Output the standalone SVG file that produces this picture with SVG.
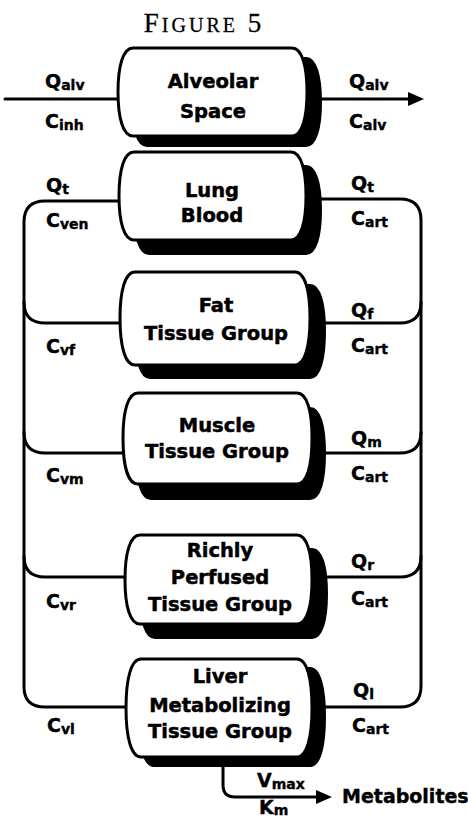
<svg xmlns="http://www.w3.org/2000/svg" width="468" height="820" viewBox="0 0 468 820">
<defs>
<style>
.bx{fill:#fff;stroke:#000;stroke-width:3;stroke-linejoin:round}
.sh{fill:#000;stroke:#000;stroke-width:2}
.ln{fill:none;stroke:#000;stroke-width:3;stroke-linecap:round}
.t{font-family:"DejaVu Sans","Liberation Sans",sans-serif;font-weight:bold;font-size:19.5px;fill:#000;stroke:#000;stroke-width:0.5;text-anchor:middle}
.lb{font-family:"DejaVu Sans","Liberation Sans",sans-serif;font-weight:bold;font-size:19px;fill:#000;stroke:#000;stroke-width:0.4}
.sb{font-size:14px}
.ttl{font-family:"Liberation Serif",serif;fill:#000;stroke:#000;stroke-width:0.3;text-anchor:middle;letter-spacing:3px}
</style>
<marker id="ah" viewBox="0 0 16 14" refX="2" refY="7" markerWidth="16" markerHeight="14" markerUnits="userSpaceOnUse" orient="auto">
<path d="M0,0 L16,7 L0,14 Z" fill="#000"/>
</marker>
</defs>
<rect width="468" height="820" fill="#fff"/>
<text class="ttl" x="204" y="32"><tspan font-size="27">F</tspan><tspan font-size="20">IGURE</tspan><tspan font-size="27"> 5</tspan></text>

<g id="connectors">
<path class="ln" d="M5,99 H120"/>
<path class="ln" d="M318,99 H410" marker-end="url(#ah)"/>
<path class="ln" d="M121,201 H45 Q24,201 24,222 V687 Q24,707 45,707 H128"/>
<path class="ln" d="M24,302 Q24,323 45,323 H122"/>
<path class="ln" d="M24,432 Q24,453 45,453 H125"/>
<path class="ln" d="M24,556 Q24,577 45,577 H127"/>
<path class="ln" d="M304,199 H400 Q421,199 421,220 V686 Q421,707 400,707 H310"/>
<path class="ln" d="M421,302 Q421,323 400,323 H308"/>
<path class="ln" d="M421,432 Q421,453 400,453 H310"/>
<path class="ln" d="M421,556 Q421,577 400,577 H310"/>
<path class="ln" d="M223,762 V785 Q223,797 235,797 H318" marker-end="url(#ah)"/>
</g>

<g id="alveolar">
<path class="sh" transform="translate(14,10)" d="M133,48 H292 C302,48 307,66 307,92 C307,118 302,136 292,136 H133 C123,136 118,118 118,92 C118,66 123,48 133,48 Z"/>
<path class="bx" d="M133,48 H292 C302,48 307,66 307,92 C307,118 302,136 292,136 H133 C123,136 118,118 118,92 C118,66 123,48 133,48 Z"/>
<text class="t" x="213" y="88">Alveolar</text>
<text class="t" x="213" y="118">Space</text>
</g>

<g id="lung">
<path class="sh" transform="translate(15,14)" d="M134,152 H291 C301,152 306,170 306,196 C306,222 301,240 291,240 H134 C124,240 119,222 119,196 C119,170 124,152 134,152 Z"/>
<path class="bx" d="M134,152 H291 C301,152 306,170 306,196 C306,222 301,240 291,240 H134 C124,240 119,222 119,196 C119,170 124,152 134,152 Z"/>
<text class="t" x="212" y="197">Lung</text>
<text class="t" x="212" y="222">Blood</text>
</g>

<g id="fat">
<path class="sh" transform="translate(15,13)" d="M135,272 H295 C305,272 310,291 310,318 C310,346 305,365 295,365 H135 C125,365 120,346 120,318 C120,291 125,272 135,272 Z"/>
<path class="bx" d="M135,272 H295 C305,272 310,291 310,318 C310,346 305,365 295,365 H135 C125,365 120,346 120,318 C120,291 125,272 135,272 Z"/>
<text class="t" x="216" y="312">Fat</text>
<text class="t" x="216" y="340">Tissue Group</text>
</g>

<g id="muscle">
<path class="sh" transform="translate(13,15)" d="M138,393 H297 C307,393 312,411 312,438 C312,466 307,484 297,484 H138 C128,484 123,466 123,438 C123,411 128,393 138,393 Z"/>
<path class="bx" d="M138,393 H297 C307,393 312,411 312,438 C312,466 307,484 297,484 H138 C128,484 123,466 123,438 C123,411 128,393 138,393 Z"/>
<text class="t" x="217" y="432">Muscle</text>
<text class="t" x="217" y="458">Tissue Group</text>
</g>

<g id="richly">
<path class="sh" transform="translate(15,14)" d="M140,535 H297 C307,535 312,553 312,580 C312,606 307,624 297,624 H140 C130,624 125,606 125,580 C125,553 130,535 140,535 Z"/>
<path class="bx" d="M140,535 H297 C307,535 312,553 312,580 C312,606 307,624 297,624 H140 C130,624 125,606 125,580 C125,553 130,535 140,535 Z"/>
<text class="t" x="220" y="557">Richly</text>
<text class="t" x="220" y="584">Perfused</text>
<text class="t" x="220" y="611">Tissue Group</text>
</g>

<g id="liver">
<path class="sh" transform="translate(13,9)" d="M141,659 H297 C307,659 312,679 312,708 C312,737 307,757 297,757 H141 C131,757 126,737 126,708 C126,679 131,659 141,659 Z"/>
<path class="bx" d="M141,659 H297 C307,659 312,679 312,708 C312,737 307,757 297,757 H141 C131,757 126,737 126,708 C126,679 131,659 141,659 Z"/>
<text class="t" x="220" y="683">Liver</text>
<text class="t" x="220" y="712">Metabolizing</text>
<text class="t" x="220" y="738">Tissue Group</text>
</g>

<g id="labels">
<text class="lb" x="45" y="88">Q<tspan class="sb" dy="2">alv</tspan></text>
<text class="lb" x="45" y="128">C<tspan class="sb" dy="2">inh</tspan></text>
<text class="lb" x="349" y="88">Q<tspan class="sb" dy="2">alv</tspan></text>
<text class="lb" x="349" y="128">C<tspan class="sb" dy="2">alv</tspan></text>
<text class="lb" x="46" y="192">Q<tspan class="sb" dy="2">t</tspan></text>
<text class="lb" x="46" y="227">C<tspan class="sb" dy="2">ven</tspan></text>
<text class="lb" x="351" y="190">Q<tspan class="sb" dy="2">t</tspan></text>
<text class="lb" x="351" y="225">C<tspan class="sb" dy="2">art</tspan></text>
<text class="lb" x="46" y="353">C<tspan class="sb" dy="2">vf</tspan></text>
<text class="lb" x="351" y="317">Q<tspan class="sb" dy="2">f</tspan></text>
<text class="lb" x="351" y="352">C<tspan class="sb" dy="2">art</tspan></text>
<text class="lb" x="46" y="482">C<tspan class="sb" dy="2">vm</tspan></text>
<text class="lb" x="351" y="445">Q<tspan class="sb" dy="2">m</tspan></text>
<text class="lb" x="351" y="480">C<tspan class="sb" dy="2">art</tspan></text>
<text class="lb" x="46" y="608">C<tspan class="sb" dy="2">vr</tspan></text>
<text class="lb" x="351" y="568">Q<tspan class="sb" dy="2">r</tspan></text>
<text class="lb" x="351" y="605">C<tspan class="sb" dy="2">art</tspan></text>
<text class="lb" x="47" y="732">C<tspan class="sb" dy="2">vl</tspan></text>
<text class="lb" x="353" y="697">Q<tspan class="sb" dy="2">l</tspan></text>
<text class="lb" x="352" y="732">C<tspan class="sb" dy="2">art</tspan></text>
<text class="lb" x="257" y="787">V<tspan class="sb" dy="2">max</tspan></text>
<text class="lb" x="259" y="814">K<tspan class="sb" dy="1">m</tspan></text>
<text class="lb" x="342" y="803" font-size="19.5">Metabolites</text>
</g>
</svg>
